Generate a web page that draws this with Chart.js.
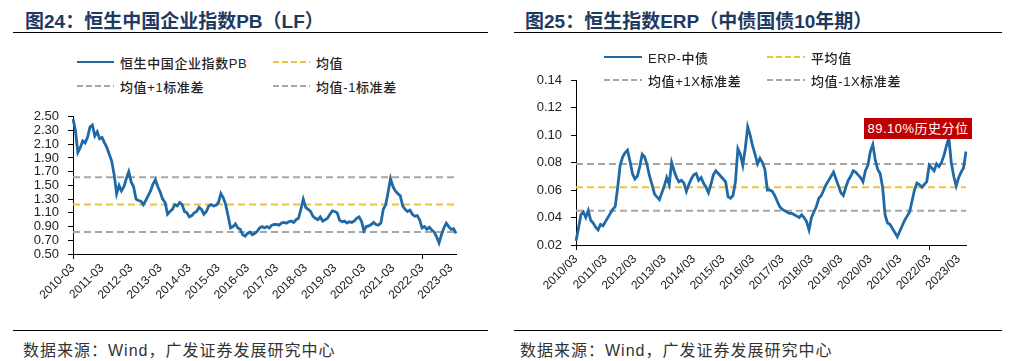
<!DOCTYPE html>
<html>
<head>
<meta charset="utf-8">
<script src="https://cdn.jsdelivr.net/npm/chart.js@4.4.1/dist/chart.umd.min.js"></script>
<style>
body { margin:0; width:1013px; height:361px; background:#fff; position:relative; overflow:hidden; }
.title { position:absolute; top:6px; font:bold 19px "Liberation Sans","Noto Sans CJK SC",sans-serif; color:#1f3a60; white-space:nowrap; }
.rule { position:absolute; height:1px; background:#000; }
.src { position:absolute; top:337px; font:16px "Liberation Sans","Noto Sans CJK SC",sans-serif; letter-spacing:1px; color:#333; white-space:nowrap; }
.leg { position:absolute; font:500 13px "Liberation Sans","Noto Sans CJK SC",sans-serif; letter-spacing:0.6px; color:#222; display:flex; align-items:center; white-space:nowrap; height:16px; }
.leg i { display:inline-block; height:2px; margin-right:6px; }
.note { position:absolute; left:864px; top:118px; width:108px; height:21px; background:#c00000; color:#fff;
        font:13px "Liberation Sans","Noto Sans CJK SC",sans-serif; line-height:21px; text-align:center; letter-spacing:0.5px; }
canvas { position:absolute; }
</style>
</head>
<body>
<div class="title" style="left:25px">图24：恒生中国企业指数PB（LF）</div>
<div class="title" style="left:525px">图25：恒生指数ERP（中债国债10年期）</div>
<div class="rule" style="left:13px;top:32px;width:475px"></div>
<div class="rule" style="left:514px;top:32px;width:488px"></div>
<div class="rule" style="left:13px;top:330px;width:475px"></div>
<div class="rule" style="left:514px;top:330px;width:488px"></div>
<div class="src" style="left:23px">数据来源：Wind，广发证券发展研究中心</div>
<div class="src" style="left:520px">数据来源：Wind，广发证券发展研究中心</div>

<div style="position:absolute;left:0;top:100px;width:490px;height:230px"><canvas id="pbChart"></canvas></div>
<div style="position:absolute;left:505px;top:60px;width:500px;height:250px"><canvas id="erpChart"></canvas></div>
<div class="note">89.10%历史分位</div>

<script>
// monthly values, first point 2010-03
const pbValues = [
  2.47, 2.30, 1.98, 2.05, 2.15, 2.12, 2.20, 2.35, 2.38, 2.22, 2.28, 2.18,
  2.20, 2.12, 2.05, 1.95, 1.85, 1.65, 1.38, 1.50, 1.42, 1.48, 1.60, 1.70,
  1.55, 1.48, 1.30, 1.28, 1.27, 1.22, 1.28, 1.35, 1.42, 1.52, 1.58, 1.48,
  1.40, 1.30, 1.25, 1.08, 1.12, 1.15, 1.22, 1.20, 1.25, 1.22, 1.12, 1.10,
  1.04, 1.06, 1.10, 1.12, 1.18, 1.15, 1.08, 1.12, 1.20, 1.22, 1.20, 1.21,
  1.25, 1.38, 1.32, 1.22, 1.05, 0.88, 0.90, 0.94, 0.88, 0.86, 0.78, 0.76,
  0.80, 0.82, 0.78, 0.80, 0.83, 0.88, 0.90, 0.88, 0.90, 0.88, 0.92, 0.93,
  0.93, 0.92, 0.95, 0.96, 0.95, 0.97, 0.98, 0.96, 1.00, 1.02, 1.15, 1.30,
  1.18, 1.15, 1.12, 1.05, 1.02, 1.00, 1.04, 0.98, 1.00, 1.02, 1.08, 1.13,
  1.12, 1.10, 0.99, 0.97, 0.98, 0.95, 0.97, 0.96, 0.98, 1.02, 1.04, 0.98,
  0.84, 0.90, 0.91, 0.93, 0.96, 0.93, 0.92, 0.95, 1.15, 1.22, 1.40, 1.60,
  1.48, 1.42, 1.38, 1.35, 1.20, 1.15, 1.12, 1.14, 1.08, 1.05, 1.06, 1.00,
  0.88, 0.90, 0.86, 0.89, 0.85, 0.82, 0.75, 0.66, 0.78, 0.88, 0.95, 0.90,
  0.86, 0.87, 0.80
];
const pbMean = 1.22;
const pbUpper = 1.62;
const pbLower = 0.82;

const erpValues = [
  0.023, 0.032, 0.042, 0.044, 0.040, 0.045, 0.038, 0.036, 0.033, 0.031, 0.035, 0.034,
  0.037, 0.040, 0.043, 0.046, 0.048, 0.062, 0.078, 0.084, 0.087, 0.089, 0.081, 0.072,
  0.068, 0.070, 0.077, 0.086, 0.084, 0.078, 0.070, 0.064, 0.057, 0.055, 0.053, 0.058,
  0.063, 0.069, 0.064, 0.080, 0.074, 0.069, 0.066, 0.067, 0.065, 0.059, 0.064, 0.068,
  0.071, 0.072, 0.067, 0.069, 0.065, 0.062, 0.058, 0.064, 0.071, 0.074, 0.072, 0.070,
  0.068, 0.066, 0.055, 0.054, 0.056, 0.066, 0.090, 0.086, 0.078, 0.090, 0.106, 0.100,
  0.092, 0.086, 0.079, 0.083, 0.080, 0.075, 0.060, 0.060, 0.059, 0.056, 0.052, 0.048,
  0.046, 0.045, 0.044, 0.043, 0.043, 0.042, 0.041, 0.040, 0.042, 0.040, 0.037, 0.031,
  0.040, 0.044, 0.048, 0.054, 0.056, 0.060, 0.064, 0.067, 0.070, 0.073, 0.068, 0.063,
  0.058, 0.056, 0.062, 0.067, 0.070, 0.074, 0.073, 0.071, 0.069, 0.066, 0.074, 0.078,
  0.088, 0.093, 0.082, 0.075, 0.072, 0.062, 0.042, 0.036, 0.035, 0.032, 0.029, 0.026,
  0.030, 0.034, 0.038, 0.041, 0.044, 0.052, 0.060, 0.065, 0.064, 0.062, 0.064, 0.066,
  0.078, 0.076, 0.074, 0.079, 0.077, 0.080, 0.085, 0.092, 0.098, 0.080, 0.070, 0.063,
  0.069, 0.073, 0.076, 0.088
];
const erpMean = 0.062;
const erpUpper = 0.079;
const erpLower = 0.045;

const pbTickLabels = ["2010-03","2011-03","2012-03","2013-03","2014-03","2015-03","2016-03",
  "2017-03","2018-03","2019-03","2020-03","2021-03","2022-03","2023-03"];
const erpTickLabels = ["2010/03","2011/03","2012/03","2013/03","2014/03","2015/03","2016/03",
  "2017/03","2018/03","2019/03","2020/03","2021/03","2022/03","2023/03"];

const blue = "#1f69a6";
const yellow = "#ecc440";
const gray = "#a6a6a6";

function monthLabels(n, sep) {
    const out = [];
    for (let i = 0; i < n; i++) {
        const y = 2010 + Math.floor((2 + i) / 12);
        const mo = (2 + i) % 12 + 1;
        out.push(y + sep + String(mo).padStart(2, "0"));
    }
    return out;
}

function flat(v, n) {
    return new Array(n).fill(v);
}

function makeChart(id, opt) {
    const labels = monthLabels(opt.values.length, opt.sep);
    const n = labels.length;
    const lineSet = (label, data, color, dash, width) => ({
        label, data, borderColor: color, backgroundColor: color, borderWidth: width,
        borderDash: dash, pointRadius: 0, tension: 0, fill: false
    });
    return new Chart(document.getElementById(id), {
        type: "line",
        data: {
            labels: labels,
            datasets: [
                lineSet(opt.names[0], opt.values, blue, [], 2.8),
                lineSet(opt.names[1], flat(opt.mean, n), yellow, [7, 4], 2),
                lineSet(opt.names[2], flat(opt.upper, n), gray, [7, 4], 2),
                lineSet(opt.names[3], flat(opt.lower, n), gray, [7, 4], 2)
            ]
        },
        options: {
            responsive: true,
            maintainAspectRatio: false,
            animation: false,
            layout: { padding: opt.padding },
            plugins: { legend: { display: false }, tooltip: { enabled: false } },
            scales: {
                x: {
                    type: "category",
                    offset: false,
                    border: { color: "#000", width: 1 },
                    grid: {
                        drawOnChartArea: false, tickLength: 5,
                        tickColor: (c) => (c.index % 12 === 0 ? "#000" : "rgba(0,0,0,0)")
                    },
                    ticks: {
                        autoSkip: false, minRotation: 45, maxRotation: 45, padding: 2,
                        color: "#222", font: { family: "Liberation Sans", size: 12 },
                        callback: (v) => (opt.ticks.includes(labels[v]) ? labels[v] : null)
                    },
                    afterFit: (s) => { s.height = opt.xHeight; }
                },
                y: {
                    min: opt.min, max: opt.max,
                    border: { color: "#000", width: 1 },
                    grid: { drawOnChartArea: false, tickLength: 5, tickColor: "#000" },
                    ticks: {
                        stepSize: opt.step, autoSkip: false, padding: 9, color: "#222",
                        font: { family: "Liberation Sans", size: 13 },
                        callback: (v) => v.toFixed(2)
                    },
                    afterFit: (s) => { s.width = opt.yWidth; }
                }
            }
        }
    });
}

function addLegend(chart, spots) {
    chart.data.datasets.forEach((ds, i) => {
        const d = document.createElement("div");
        d.className = "leg";
        d.style.left = spots[i][0] + "px";
        d.style.top = (spots[i][1] - 8) + "px";
        const mark = document.createElement("i");
        mark.style.width = spots[i][2] + "px";
        if (ds.borderDash.length) {
            mark.style.background = "repeating-linear-gradient(to right," + ds.borderColor +
                " 0 6px, transparent 6px 9px)";
        } else {
            mark.style.background = ds.borderColor;
        }
        d.appendChild(mark);
        d.appendChild(document.createTextNode(ds.label));
        document.body.appendChild(d);
    });
}

const pbChart = makeChart("pbChart", {
    values: pbValues, mean: pbMean, upper: pbUpper, lower: pbLower, sep: "-",
    ticks: pbTickLabels, min: 0.5, max: 2.5, step: 0.2,
    names: ["恒生中国企业指数PB", "均值", "均值+1标准差", "均值-1标准差"],
    padding: { top: 16, right: 34, left: 0, bottom: 0 }, yWidth: 73, xHeight: 76
});
addLegend(pbChart, [[77, 62, 37], [273, 62, 37], [77, 86, 37], [273, 86, 37]]);

const erpChart = makeChart("erpChart", {
    values: erpValues, mean: erpMean, upper: erpUpper, lower: erpLower, sep: "/",
    ticks: erpTickLabels, min: 0.02, max: 0.14, step: 0.02,
    names: ["ERP-中债", "平均值", "均值+1X标准差", "均值-1X标准差"],
    padding: { top: 20, right: 39, left: 0, bottom: 0 }, yWidth: 71, xHeight: 65
});
addLegend(erpChart, [[604, 57, 38], [767, 57, 38], [604, 80, 38], [767, 80, 38]]);
</script>
</body>
</html>
